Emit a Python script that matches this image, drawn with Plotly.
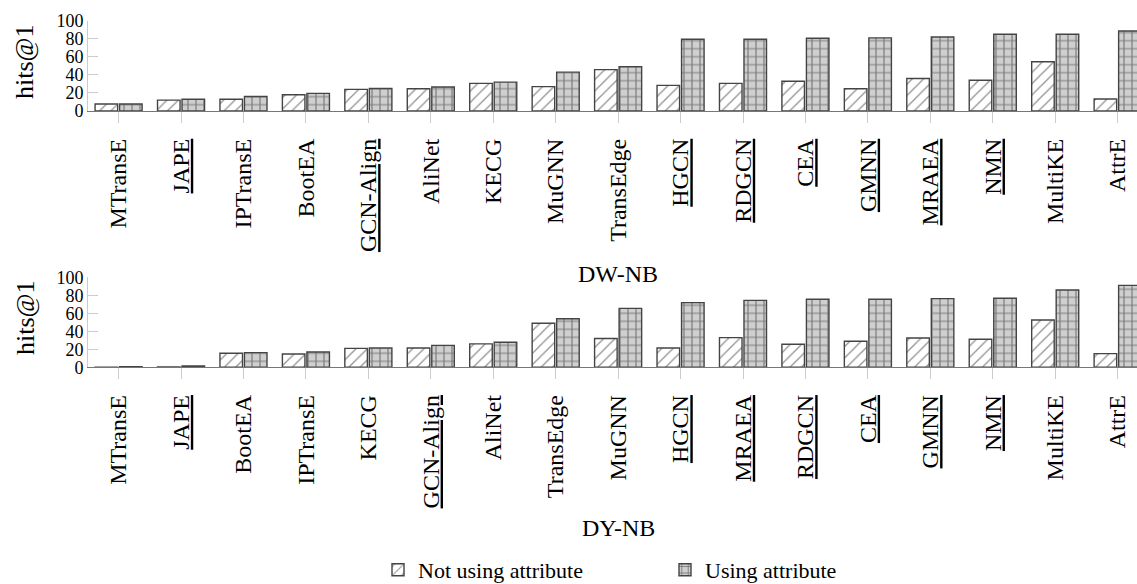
import plotly.graph_objects as go

# ---- data ----
dw_methods = ["MTransE", "JAPE", "IPTransE", "BootEA", "GCN-Align", "AliNet", "KECG", "MuGNN",
              "TransEdge", "HGCN", "RDGCN", "CEA", "GMNN", "MRAEA", "NMN", "MultiKE", "AttrE"]
dw_underlined = ["JAPE", "GCN-Align", "HGCN", "RDGCN", "CEA", "GMNN", "MRAEA", "NMN"]
dw_not_attr = [7.7, 12, 13, 18, 24, 24.7, 30.6, 27, 45.8, 28.4, 30.6, 33, 24.7, 36, 34, 54.6, 13.3]
dw_attr = [7.7, 13, 16, 19.5, 25, 26.6, 32, 43, 49, 79.4, 79.4, 80.5, 81, 82, 85, 85, 88.6]

dy_methods = ["MTransE", "JAPE", "BootEA", "IPTransE", "KECG", "GCN-Align", "AliNet", "TransEdge",
              "MuGNN", "HGCN", "MRAEA", "RDGCN", "CEA", "GMNN", "NMN", "MultiKE", "AttrE"]
dy_underlined = ["JAPE", "GCN-Align", "HGCN", "MRAEA", "RDGCN", "CEA", "GMNN", "NMN"]
dy_not_attr = [0.2, 0.3, 15.6, 14.8, 21, 21.5, 26, 49, 32, 21.5, 33, 25.6, 28.9, 32.6, 31.1, 52.6, 15.2]
dy_attr = [0.6, 1.5, 16.3, 17, 21.5, 24.4, 27.8, 54, 65.5, 71.9, 74.4, 75.6, 75.6, 76.3, 76.7, 85.9, 91]

y_ticks = [0, 20, 40, 60, 80, 100]
series_names = ["Not using attribute", "Using attribute"]

FONT = "Liberation Serif"
W, H = 1137, 584


def label(m, under):
    return f"<u>{m}</u>" if m in under else m


fig = go.Figure()

panels = [
    (dw_methods, dw_underlined, dw_not_attr, dw_attr, "x", "y"),
    (dy_methods, dy_underlined, dy_not_attr, dy_attr, "x2", "y2"),
]
for i, (meth, under, na, wa, xa, ya) in enumerate(panels):
    idx = list(range(len(meth)))
    fig.add_trace(go.Bar(
        x=idx, y=na, xaxis=xa, yaxis=ya, name=series_names[0],
        legendgroup="na", showlegend=(i == 0),
        marker=dict(color="white", line=dict(color="#444", width=1.4),
                    pattern=dict(shape="/", fgcolor="#222", bgcolor="white", size=8, solidity=0.16)),
    ))
    fig.add_trace(go.Bar(
        x=idx, y=wa, xaxis=xa, yaxis=ya, name=series_names[1],
        legendgroup="wa", showlegend=(i == 0),
        marker=dict(color="#cfcfcf", line=dict(color="#444", width=1.4),
                    pattern=dict(shape="+", fgcolor="#2a2a2a", bgcolor="#cfcfcf", size=8, solidity=0.28)),
    ))

xdom = [88 / W, 1.0]
xrange = [-0.49, 16.31]


def py(px):
    return 1 - px / H


common_x = dict(range=xrange, domain=xdom, showline=True, linecolor="#777", linewidth=1.3,
                ticks="outside", ticklen=11, tickcolor="#ccc", tickangle=-90,
                ticklabelstandoff=6, ticklabeloverflow="allow", automargin=False,
                tickfont=dict(family=FONT, size=24, color="black"), showgrid=False, zeroline=False)
common_y = dict(range=[0, 100], tickvals=y_ticks, showline=True, linecolor="#ccc", linewidth=1,
                ticks="inside", ticklen=10, tickcolor="#ccc", automargin=False,
                tickfont=dict(family=FONT, size=18, color="black"), showgrid=False, zeroline=False)

fig.update_layout(
    width=W, height=H, autosize=False,
    margin=dict(l=0, r=0, t=0, b=0, autoexpand=False),
    paper_bgcolor="white", plot_bgcolor="white",
    barmode="group", bargap=0.215, bargroupgap=0.08,
    font=dict(family=FONT, color="black"),
    xaxis=dict(common_x, anchor="y", tickvals=list(range(len(dw_methods))),
               ticktext=[label(m, dw_underlined) for m in dw_methods]),
    yaxis=dict(common_y, anchor="x", domain=[py(111), py(20.7)]),
    xaxis2=dict(common_x, anchor="y2", tickvals=list(range(len(dy_methods))),
                ticktext=[label(m, dy_underlined) for m in dy_methods]),
    yaxis2=dict(common_y, anchor="x2", domain=[py(367.3), py(277.3)]),
    legend=dict(orientation="h", x=378 / W, y=py(591), xanchor="left", yanchor="bottom",
                font=dict(family=FONT, size=22, color="black"), itemwidth=30,
                bgcolor="rgba(0,0,0,0)", entrywidth=242),
)

annos = [
    dict(text="hits@1", x=25 / W, y=py(62), textangle=-90),
    dict(text="hits@1", x=25 / W, y=py(318), textangle=-90),
    dict(text="DW-NB", x=618 / W, y=py(274)),
    dict(text="DY-NB", x=618 / W, y=py(528)),
]
for a in annos:
    size = 26 if a["text"] == "hits@1" else 24
    fig.add_annotation(xref="paper", yref="paper", showarrow=False,
                       xanchor="center", yanchor="middle",
                       font=dict(family=FONT, size=size, color="black"), **a)

fig.write_html("out.html", config={"displayModeBar": False},
               post_script="document.body.style.margin='0';document.body.style.overflow='hidden';")
